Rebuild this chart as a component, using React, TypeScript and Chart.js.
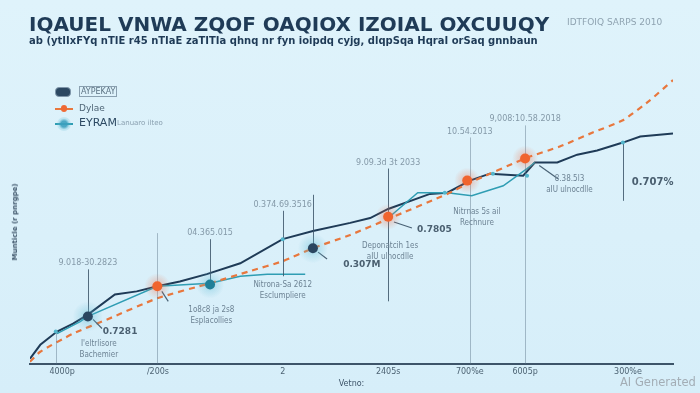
import React, { useEffect, useRef } from "react";
import { Chart, registerables } from "chart.js";

Chart.register(...registerables);

// ---- data (x: position along "Vetno", y: value) ----
const navyX = [0, 1.6, 4.2, 6.7, 9.0, 13.2, 16.6, 19.8, 23.3, 27.5, 32.7, 39.3, 44.0, 49.8, 52.9, 55.7, 62.2, 64.9, 68.4, 71.5, 76.7, 78.5, 82.0, 85.1, 88.2, 92.2, 94.9, 100];
const navyY = [1.7, 6.3, 10.7, 13.3, 16.3, 23.0, 24.0, 25.7, 27.3, 29.7, 33.3, 41.3, 44.0, 46.7, 48.3, 51.3, 56.3, 56.7, 60.7, 63.0, 62.3, 66.7, 66.7, 69.3, 70.7, 73.3, 75.3, 76.3];

const orangeX = [0, 1.6, 6.7, 12.0, 19.8, 28.0, 34.2, 39.3, 44.0, 49.8, 55.7, 64.9, 68.4, 77.3, 82.4, 87.6, 92.2, 96.4, 100];
const orangeY = [0.7, 4.0, 10.0, 14.7, 21.7, 26.7, 30.7, 34.0, 38.3, 42.7, 48.0, 56.3, 60.0, 68.3, 72.0, 76.7, 80.7, 87.3, 94.0];

const tealX = [4.2, 7.8, 9.0, 19.8, 28.0, 32.7, 36.9, 42.8, 47.0, 55.7, 60.3, 64.9, 68.7, 73.6, 77.3, 78.5];
const tealY: (number | null)[] = [10.0, 14.0, 15.7, 25.7, 26.7, 29.0, 29.7, 29.7, null, 48.3, 56.7, 56.7, 55.7, 59.0, 64.7, 66.7];

const tickValues = [5.0, 19.9, 39.3, 55.7, 68.4, 77.0, 93.0];
const tickLabels = ["4000p", "/200s", "2", "2405s", "700%e", "6005p", "300%e"];

// vertical annotation lines
const vlineX = [4.0, 9.0, 19.8, 28.0, 39.3, 44.0, 55.7, 68.4, 77.0, 92.2];
const vlineTop = [10.7, 31.3, 43.3, 41.3, 50.7, 56.0, 64.7, 75.0, 79.0, 73.3];
const vlineBottom = [0, 15.7, 0, 26.7, 29.0, 38.3, 20.7, 0, 0, 54.0];
const vlineLabel = ["", "9.018-30.2823", "", "04.365.015", "0.374.69.3516", "", "9.09.3d 3t 2033", "10.54.2013", "9,008:10.58.2018", ""];

// value call-outs
const valueX = [11.3, 48.7, 60.2, 93.6];
const valueY = [10.7, 33.0, 44.3, 60.0];
const valueText = ["0.7281", "0.307M", "0.7805", "0.707%"];

// note labels (two lines each, centred)
const noteX = [10.7, 28.2, 39.3, 56.0, 69.5, 83.9];
const noteY = [6.7, 18.0, 26.3, 39.0, 50.3, 61.3];
const noteLine1 = ["I'eltrlisore", "1o8c8 ja 2s8", "Nitrona-Sa 2612", "Deponatcih 1es", "Nitrnas 5s ail", "8.38.5l3"];
const noteLine2 = ["Bachemier", "Esplacollies", "Esclumpliere", "aIU ulnocdlle", "Rechnure", "aIU ulnocdlle"];

// leader lines
const leaderX1 = [9.8, 20.5, 44.8, 56.6, 79.2];
const leaderY1 = [14.7, 24.0, 37.0, 47.0, 65.7];
const leaderX2 = [11.2, 21.5, 46.2, 59.4, 82.1];
const leaderY2 = [11.7, 20.7, 34.7, 45.0, 61.3];

// highlighted points
const hotX = [19.8, 55.7, 68.0, 77.0];
const hotY = [25.7, 48.7, 60.7, 68.0];
const navyDotX = [9.0, 44.0];
const navyDotY = [15.7, 38.3];
const tealDotX = [28.0];
const tealDotY = [26.3];
const tinyX = [39.3, 64.5, 72.0, 77.3, 92.2, 4.0];
const tinyY = [41.3, 56.7, 63.0, 62.3, 73.3, 10.7];

const toPts = (xs: number[], ys: (number | null)[]) => xs.map((x, i) => ({ x, y: ys[i] }));

const annotationPlugin = {
  id: "annots",
  afterDatasetsDraw(chart: any) {
    const { ctx, scales } = chart;
    const X = (v: number) => scales.x.getPixelForValue(v);
    const Y = (v: number) => scales.y.getPixelForValue(v);
    ctx.save();
    vlineX.forEach((vx, i) => {
      const faint = vlineBottom[i] === 0;
      ctx.strokeStyle = faint ? "rgba(90,115,135,0.45)" : "rgba(60,85,105,0.85)";
      ctx.lineWidth = 1;
      ctx.beginPath();
      ctx.moveTo(Math.round(X(vx)) + 0.5, Y(vlineTop[i]));
      ctx.lineTo(Math.round(X(vx)) + 0.5, Y(vlineBottom[i]));
      ctx.stroke();
      if (vlineLabel[i]) {
        ctx.fillStyle = "#8499a8";
        ctx.font = "8px 'DejaVu Sans'";
        ctx.textAlign = "center";
        ctx.textBaseline = "bottom";
        ctx.fillText(vlineLabel[i], X(vx), Y(vlineTop[i]) - 2);
      }
    });
    ctx.strokeStyle = "#4a6275";
    ctx.lineWidth = 1.2;
    leaderX1.forEach((lx, i) => {
      ctx.beginPath();
      ctx.moveTo(X(lx), Y(leaderY1[i]));
      ctx.lineTo(X(leaderX2[i]), Y(leaderY2[i]));
      ctx.stroke();
    });
    const glow = (px: number, py: number, rgb: string, r: number) => {
      const g = ctx.createRadialGradient(px, py, 0, px, py, r);
      g.addColorStop(0, `rgba(${rgb},0.55)`);
      g.addColorStop(0.5, `rgba(${rgb},0.22)`);
      g.addColorStop(1, `rgba(${rgb},0)`);
      ctx.fillStyle = g;
      ctx.beginPath();
      ctx.arc(px, py, r, 0, Math.PI * 2);
      ctx.fill();
    };
    hotX.forEach((hx, i) => {
      const px = X(hx), py = Y(hotY[i]);
      glow(px, py, "240,110,70", 13);
      ctx.fillStyle = "#f0642e";
      ctx.beginPath();
      ctx.arc(px, py, 5, 0, Math.PI * 2);
      ctx.fill();
    });
    navyDotX.forEach((nx, i) => {
      const px = X(nx), py = Y(navyDotY[i]);
      glow(px, py, "90,185,210", 15);
      ctx.fillStyle = "#2a4660";
      ctx.beginPath();
      ctx.arc(px, py, 5, 0, Math.PI * 2);
      ctx.fill();
    });
    tealDotX.forEach((tx, i) => {
      const px = X(tx), py = Y(tealDotY[i]);
      glow(px, py, "90,185,210", 14);
      ctx.fillStyle = "#1f7f98";
      ctx.beginPath();
      ctx.arc(px, py, 5, 0, Math.PI * 2);
      ctx.fill();
    });
    tinyX.forEach((tx, i) => {
      const px = X(tx), py = Y(tinyY[i]);
      ctx.fillStyle = "#52b6cc";
      ctx.beginPath();
      ctx.arc(px, py, 2, 0, Math.PI * 2);
      ctx.fill();
    });
    ctx.textAlign = "left";
    ctx.textBaseline = "middle";
    valueX.forEach((vx, i) => {
      ctx.fillStyle = "#4a5f70";
      ctx.font = i === 3 ? "bold 10px 'DejaVu Sans'" : "bold 9px 'DejaVu Sans'";
      ctx.fillText(valueText[i], X(vx), Y(valueY[i]));
    });
    ctx.textAlign = "center";
    ctx.font = "8px 'DejaVu Sans Condensed', 'DejaVu Sans'";
    noteX.forEach((nx, i) => {
      ctx.fillStyle = "#6d8394";
      ctx.fillText(noteLine1[i], X(nx), Y(noteY[i]));
      ctx.fillText(noteLine2[i], X(nx), Y(noteY[i]) + 11);
    });
    ctx.restore();
  },
};

export default function App() {
  const ref = useRef<HTMLCanvasElement | null>(null);
  useEffect(() => {
    document.body.style.margin = "0";
    if (!ref.current) return;
    const chart = new Chart(ref.current, {
      type: "line",
      data: {
        datasets: [
          {
            label: "Dylae",
            data: toPts(orangeX, orangeY),
            borderColor: "#e8773d",
            borderWidth: 2.2,
            borderDash: [6, 5],
            pointRadius: 0,
            tension: 0.2,
          },
          {
            label: "EYRAM",
            data: toPts(tealX, tealY),
            borderColor: "#2f9db3",
            borderWidth: 1.5,
            pointRadius: 0,
            spanGaps: false,
          },
          {
            label: "AYPEKAY",
            data: toPts(navyX, navyY),
            borderColor: "#1f3b57",
            borderWidth: 2,
            pointRadius: 0,
          },
        ],
      },
      options: {
        animation: false,
        responsive: false,
        maintainAspectRatio: false,
        layout: { padding: { left: 30, right: 27, top: 62, bottom: 4 } },
        plugins: { legend: { display: false }, tooltip: { enabled: false } },
        scales: {
          x: {
            type: "linear",
            min: 0,
            max: 100,
            afterBuildTicks: (axis: any) => {
              axis.ticks = tickValues.map((v) => ({ value: v }));
            },
            ticks: {
              autoSkip: false,
              maxRotation: 0,
              padding: 3,
              color: "#4d6373",
              font: { size: 8, family: "'DejaVu Sans'" },
              callback: (_v: any, i: number) => tickLabels[i],
            },
            grid: { display: false, drawTicks: false },
            border: { display: true, color: "#3d5469", width: 2 },
            title: {
              display: true,
              text: "Vetno:",
              color: "#3d5469",
              font: { size: 8, family: "'DejaVu Sans'" },
              padding: { top: 0, bottom: 0 },
            },
          },
          y: { display: false, min: 0, max: 100 },
        },
      },
      plugins: [annotationPlugin],
    } as any);
    return () => chart.destroy();
  }, []);

  const navy = "#1f3b57";
  return (
    <div
      style={{
        position: "relative",
        width: 700,
        height: 393,
        overflow: "hidden",
        background: "linear-gradient(180deg, #dff3fb 0%, #daf0fa 60%, #d6eef9 100%)",
        fontFamily: "'DejaVu Sans', sans-serif",
      }}
    >
      <canvas ref={ref} width={700} height={393} style={{ position: "absolute", left: 0, top: 0 }} />
      <div style={{ position: "absolute", left: 29, top: 12, fontSize: 20, fontWeight: "bold", color: navy, letterSpacing: 0, whiteSpace: "nowrap" }}>
        IQAUEL VNWA ZQOF OAQIOX IZOIAL OXCUUQY
      </div>
      <div style={{ position: "absolute", left: 29, top: 35, fontSize: 10, fontWeight: "bold", color: navy, whiteSpace: "nowrap" }}>
        ab (ytIIxFYq nTIE r45 nTIaE zaTITIa qhnq nr fyn ioipdq cyjg, dlqpSqa HqraI orSaq gnnbaun
      </div>
      <div style={{ position: "absolute", left: 567, top: 17, fontSize: 9, color: "#8fa3b1", whiteSpace: "nowrap" }}>
        IDTFOIQ SARPS 2010
      </div>
      {/* legend */}
      <div style={{ position: "absolute", left: 55, top: 87, width: 16, height: 10, borderRadius: 4, background: "#2c4862", border: "1px solid #7f96aa", boxSizing: "border-box" }} />
      <div style={{ position: "absolute", left: 79, top: 86, fontSize: 8, color: "#5c7283", border: "1px solid #8aa0b0", padding: "0 1px", lineHeight: "9px" }}>AYPEKAY</div>
      <div style={{ position: "absolute", left: 55, top: 108, width: 18, height: 2, background: "#e8773d" }} />
      <div style={{ position: "absolute", left: 61, top: 105, width: 6, height: 7, borderRadius: 3, background: "#ef6a35" }} />
      <div style={{ position: "absolute", left: 79, top: 103, fontSize: 9, color: "#4f6677" }}>Dylae</div>
      <div style={{ position: "absolute", left: 55, top: 123, width: 18, height: 2, background: "#2f9db3" }} />
      <div style={{ position: "absolute", left: 57, top: 117, width: 14, height: 14, borderRadius: 7, background: "radial-gradient(circle, rgba(60,160,190,0.9) 0%, rgba(60,160,190,0.9) 30%, rgba(90,185,210,0.25) 55%, rgba(90,185,210,0) 100%)" }} />
      <div style={{ position: "absolute", left: 79, top: 116, fontSize: 11, color: "#2d4a63" }}>EYRAM</div>
      <div style={{ position: "absolute", left: 117, top: 119, fontSize: 7, color: "#8aa0b0" }}>Lanuaro ilteo</div>
      {/* y-axis title */}
      <div style={{ position: "absolute", left: 15, top: 222, transform: "translate(-50%, -50%) rotate(-90deg)", fontSize: 7, fontWeight: "bold", color: "#3d5469", whiteSpace: "nowrap" }}>
        Munticle (r pnrgpe)
      </div>
      <div style={{ position: "absolute", left: 620, top: 375, fontSize: 11.5, color: "#a3adb5", whiteSpace: "nowrap" }}>AI Generated</div>
    </div>
  );
}
